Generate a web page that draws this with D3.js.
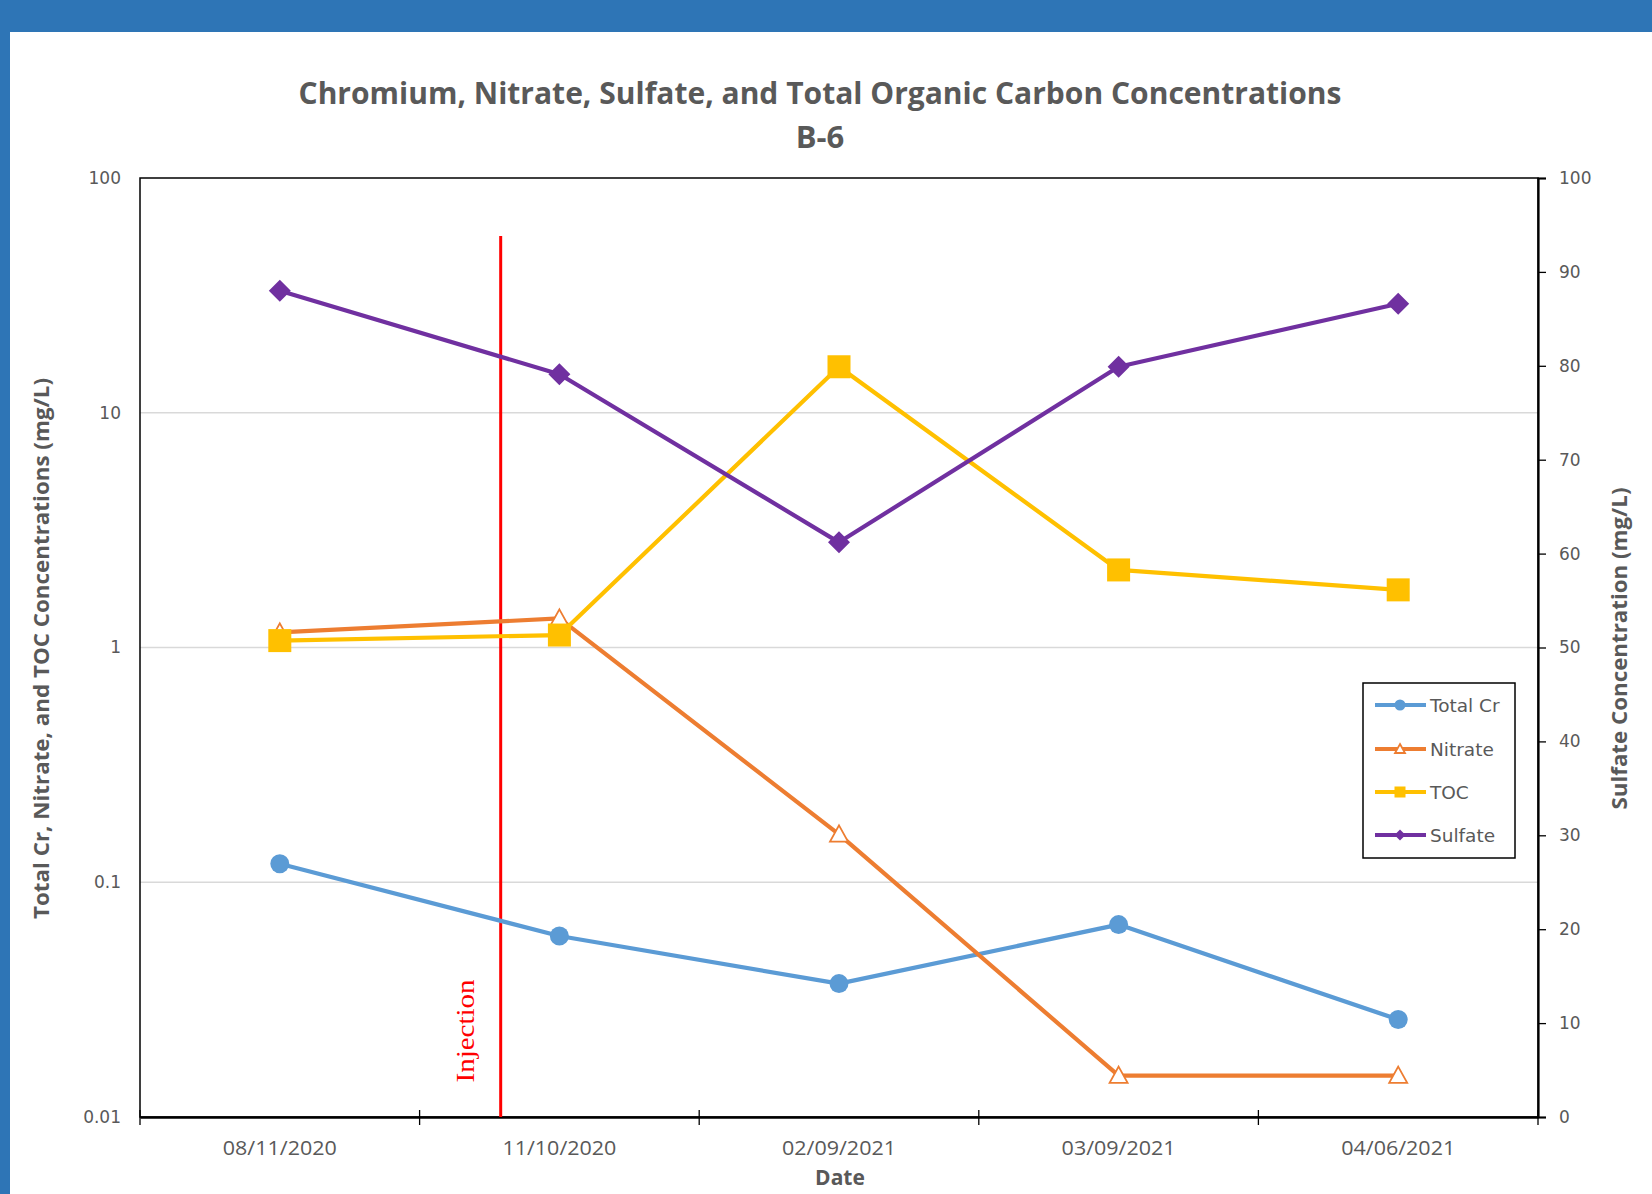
<!DOCTYPE html>
<html><head><meta charset="utf-8">
<script src="https://cdn.jsdelivr.net/npm/d3@7"></script>
<style>body{margin:0;background:#fff;overflow:hidden} svg{display:block}</style>
</head><body>
<svg id="c" width="1652" height="1194"></svg>
<script>
// ---- data ----
const dates = ["08/11/2020","11/10/2020","02/09/2021","03/09/2021","04/06/2021"];
const totalCr = [0.12, 0.059, 0.037, 0.066, 0.026];
const nitrate = [1.16, 1.33, 0.16, 0.015, 0.015];
const toc = [1.07, 1.13, 15.7, 2.14, 1.76];
const sulfate = [88.0, 79.1, 61.2, 79.9, 86.6];
const leftTicks = [0.01, 0.1, 1, 10, 100];
const leftTickLabels = ["0.01", "0.1", "1", "10", "100"];
const gridTicks = [0.1, 1, 10];
const rightTicks = [0, 10, 20, 30, 40, 50, 60, 70, 80, 90, 100];
const injectionFrac = 0.79; // fraction of the way from 1st to 2nd sampling date
const titleLines = ["Chromium, Nitrate, Sulfate, and Total Organic Carbon Concentrations", "B-6"];
const seriesNames = ["Total Cr", "Nitrate", "TOC", "Sulfate"];

// ---- layout ----
const W = 1652, H = 1194;
const P = {l: 140, r: 1538, t: 178, b: 1117};
const svg = d3.select("#c");
const narrow = "'Liberation Sans Narrow','Open Sans',sans-serif";
const wide = "'DejaVu Sans',Verdana,sans-serif";
const gray = "#595959";

svg.append("rect").attr("width", W).attr("height", H).attr("fill", "#fff");
svg.append("rect").attr("width", W).attr("height", 32).attr("fill", "#2E75B6");
svg.append("rect").attr("width", 10).attr("height", H).attr("fill", "#2E75B6");

const x = d3.scaleBand().domain(dates).range([P.l, P.r]);
const xc = d => x(d) + x.bandwidth() / 2;
const yL = d3.scaleLog().domain([0.01, 100]).range([P.b, P.t]);
const yR = d3.scaleLinear().domain([0, 100]).range([P.b, P.t]);

// title
const title = svg.append("g").attr("fill", gray).attr("font-family", narrow).attr("font-weight", "bold").attr("text-anchor", "middle");
title.append("text").attr("x", 820).attr("y", 104).attr("font-size", 31)
  .attr("textLength", 1043).attr("lengthAdjust", "spacingAndGlyphs").text(titleLines[0]);
title.append("text").attr("x", 820).attr("y", 148).attr("font-size", 31).text(titleLines[1]);

// gridlines
svg.append("g").selectAll("line").data(gridTicks).join("line")
  .attr("x1", P.l).attr("x2", P.r).attr("y1", d => yL(d)).attr("y2", d => yL(d))
  .attr("stroke", "#D9D9D9").attr("stroke-width", 1.3);

// plot frame
svg.append("rect").attr("x", P.l).attr("y", P.t).attr("width", P.r - P.l).attr("height", P.b - P.t)
  .attr("fill", "none").attr("stroke", "#000").attr("stroke-width", 1.5);

// left axis labels
svg.append("g").selectAll("text").data(leftTicks).join("text")
  .attr("x", 121).attr("y", d => yL(d)).attr("dy", "0.35em").attr("text-anchor", "end")
  .attr("font-family", wide).attr("font-size", 17).attr("fill", gray)
  .text((d, i) => leftTickLabels[i]);

// right axis
const ra = svg.append("g").attr("transform", `translate(${P.r},0)`)
  .call(d3.axisRight(yR).tickValues(rightTicks).tickSize(8).tickPadding(13).tickFormat(d3.format("d")));
ra.select(".domain").attr("stroke", "#000").attr("stroke-width", 2.2);
ra.selectAll(".tick line").attr("stroke", "#000").attr("stroke-width", 1.3);
ra.selectAll(".tick text").attr("font-family", wide).attr("font-size", 17).attr("fill", gray);

// x axis
const xa = svg.append("g").attr("transform", `translate(0,${P.b})`)
  .call(d3.axisBottom(x).tickSize(0).tickPadding(24));
xa.select(".domain").attr("stroke", "#000").attr("stroke-width", 2.5);
xa.selectAll(".tick text").attr("font-family", narrow).attr("font-size", 20).attr("fill", gray)
  .attr("textLength", 114).attr("lengthAdjust", "spacingAndGlyphs");
const bounds = dates.map(d => x(d)).concat([P.r]);
svg.append("g").selectAll("line").data(bounds).join("line")
  .attr("x1", d => d).attr("x2", d => d).attr("y1", P.b - 7).attr("y2", P.b + 8)
  .attr("stroke", "#000").attr("stroke-width", 1.3);

// axis titles
svg.append("text").attr("transform", `translate(49,${(P.t + P.b) / 2 + 1}) rotate(-90)`)
  .attr("text-anchor", "middle").attr("font-family", narrow).attr("font-weight", "bold")
  .attr("font-size", 22).attr("fill", gray).attr("textLength", 541).attr("lengthAdjust", "spacingAndGlyphs")
  .text("Total Cr, Nitrate, and TOC Concentrations (mg/L)");
svg.append("text").attr("transform", `translate(1627,${(P.t + P.b) / 2 + 1}) rotate(-90)`)
  .attr("text-anchor", "middle").attr("font-family", narrow).attr("font-weight", "bold")
  .attr("font-size", 22).attr("fill", gray).attr("textLength", 322).attr("lengthAdjust", "spacingAndGlyphs")
  .text("Sulfate Concentration (mg/L)");
svg.append("text").attr("x", 840).attr("y", 1185).attr("text-anchor", "middle")
  .attr("font-family", narrow).attr("font-weight", "bold").attr("font-size", 21).attr("fill", gray)
  .text("Date");

// injection line
const xInj = xc(dates[0]) + injectionFrac * (xc(dates[1]) - xc(dates[0]));
svg.append("line").attr("x1", xInj).attr("x2", xInj).attr("y1", 236).attr("y2", P.b)
  .attr("stroke", "#FF0000").attr("stroke-width", 3);
svg.append("text").attr("transform", `translate(${xInj - 27},1031) rotate(-90)`)
  .attr("text-anchor", "middle").attr("font-family", "'Liberation Serif','Times New Roman',serif")
  .attr("font-size", 25).attr("fill", "#FF0000").attr("textLength", 103).attr("lengthAdjust", "spacingAndGlyphs")
  .text("Injection");

// markers
function marker(g, type, cx, cy, s, color) {
  if (type === "circle") {
    g.append("circle").attr("cx", cx).attr("cy", cy).attr("r", s).attr("fill", color);
  } else if (type === "square") {
    g.append("rect").attr("x", cx - s).attr("y", cy - s).attr("width", 2 * s).attr("height", 2 * s).attr("fill", color);
  } else if (type === "diamond") {
    g.append("path").attr("d", `M${cx},${cy - s}L${cx + s},${cy}L${cx},${cy + s}L${cx - s},${cy}Z`).attr("fill", color);
  } else if (type === "triangle") {
    g.append("path").attr("d", `M${cx},${cy - s}L${cx + s},${cy + s * 0.8}L${cx - s},${cy + s * 0.8}Z`)
      .attr("fill", "#fff").attr("stroke", color).attr("stroke-width", 1.8);
  }
}

const series = [
  {name: seriesNames[0], vals: totalCr, y: yL, color: "#5B9BD5", type: "circle", size: 9.5},
  {name: seriesNames[1], vals: nitrate, y: yL, color: "#ED7D31", type: "triangle", size: 9},
  {name: seriesNames[2], vals: toc, y: yL, color: "#FFC000", type: "square", size: 11.5},
  {name: seriesNames[3], vals: sulfate, y: yR, color: "#7030A0", type: "diamond", size: 11},
];

const plot = svg.append("g");
series.forEach(s => {
  const line = d3.line().x((d, i) => xc(dates[i])).y(d => s.y(d));
  plot.append("path").attr("d", line(s.vals)).attr("fill", "none")
    .attr("stroke", s.color).attr("stroke-width", 4.2).attr("stroke-linejoin", "round");
  s.vals.forEach((v, i) => marker(plot, s.type, xc(dates[i]), s.y(v), s.size, s.color));
});

// legend
const lg = svg.append("g");
lg.append("rect").attr("x", 1363).attr("y", 683).attr("width", 152).attr("height", 175)
  .attr("fill", "#fff").attr("stroke", "#000").attr("stroke-width", 1.5);
const legY = [705, 749, 792, 835];
series.forEach((s, i) => {
  const yy = legY[i];
  lg.append("line").attr("x1", 1375).attr("x2", 1426).attr("y1", yy).attr("y2", yy)
    .attr("stroke", s.color).attr("stroke-width", 4.2);
  marker(lg, s.type, 1400, yy, s.type === "triangle" ? 5 : 5.5, s.color);
  lg.append("text").attr("x", 1430).attr("y", yy).attr("dy", "0.36em")
    .attr("font-family", wide).attr("font-size", 18.5).attr("fill", gray).text(s.name);
});
</script>
</body></html>
